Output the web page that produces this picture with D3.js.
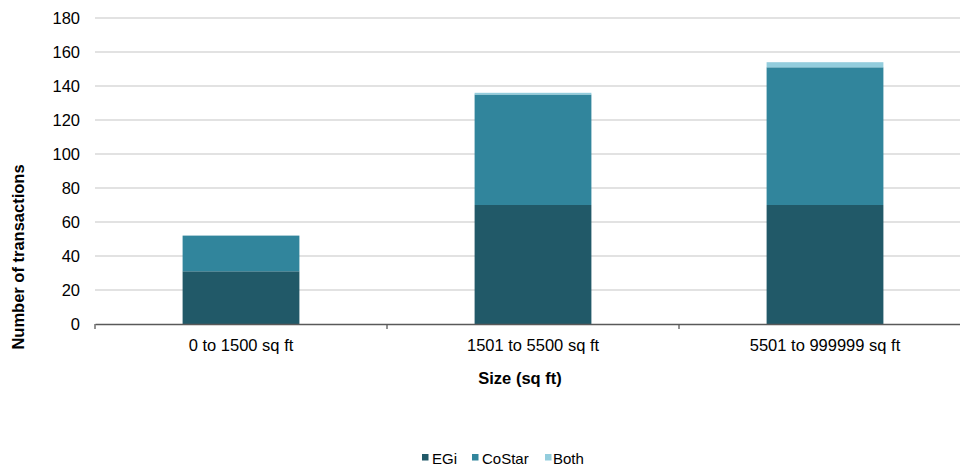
<!DOCTYPE html>
<html><head><meta charset="utf-8">
<script src="https://cdn.jsdelivr.net/npm/d3@7"></script>
<style>body{margin:0;background:#fff;overflow:hidden}svg{display:block;font-family:"Liberation Sans",Arial,sans-serif}</style>
</head><body><svg id="c" width="960" height="469"></svg>
<script>
const categories = ["0 to 1500 sq ft", "1501 to 5500 sq ft", "5501 to 999999 sq ft"];
const seriesNames = ["EGi", "CoStar", "Both"];
const egi = [31, 70, 70];
const costar = [21, 65, 81];
const both = [0, 1, 3];
const yTicks = [0, 20, 40, 60, 80, 100, 120, 140, 160, 180];
const colors = ["#215968", "#31859c", "#93cddd"];

const svg = d3.select("#c");
const x = d3.scaleBand().domain(categories).range([95, 971]).padding(0);
const y = d3.scaleLinear().domain([0, 180]).range([324, 18]);

const rows = categories.map((c, i) => ({cat: c, EGi: egi[i], CoStar: costar[i], Both: both[i]}));
const stack = d3.stack().keys(seriesNames)(rows);

// gridlines
svg.append("g").selectAll("line").data(yTicks.filter(t => t > 0)).join("line")
  .attr("x1", 95).attr("x2", 971).attr("y1", d => y(d)).attr("y2", d => y(d))
  .attr("stroke", "#d9d9d9").attr("stroke-width", 1.3);

// bars
const bw = x.bandwidth() * 0.4;
svg.append("g").selectAll("g").data(stack).join("g")
  .attr("fill", (d, i) => colors[i])
  .selectAll("rect").data(d => d).join("rect")
  .attr("x", d => x(d.data.cat) + (x.bandwidth() - bw) / 2)
  .attr("width", bw)
  .attr("y", d => y(d[1]))
  .attr("height", d => y(d[0]) - y(d[1]));

// y axis labels
const yAxis = svg.append("g").attr("transform", "translate(95,0)")
  .call(d3.axisLeft(y).tickValues(yTicks).tickSize(0).tickPadding(15));
yAxis.select(".domain").remove();
yAxis.selectAll("text").attr("font-size", 16.5).attr("fill", "#000").attr("font-family", "Liberation Sans, Arial, sans-serif");

// x axis
const xAxis = svg.append("g").attr("transform", "translate(0,324)")
  .call(d3.axisBottom(x).tickSize(0).tickPadding(15));
xAxis.select(".domain").attr("stroke", "#595959").attr("stroke-width", 1.3);
xAxis.selectAll("text").attr("font-size", 16.5).attr("fill", "#000").attr("font-family", "Liberation Sans, Arial, sans-serif");
// category separator ticks
svg.append("g").selectAll("line").data(categories).join("line")
  .attr("x1", d => x(d)).attr("x2", d => x(d))
  .attr("y1", 324).attr("y2", 329).attr("stroke", "#595959").attr("stroke-width", 1.3);

// axis titles
svg.append("text").attr("x", 520).attr("y", 384).attr("text-anchor", "middle")
  .attr("font-size", 16.5).attr("font-weight", "bold").text("Size (sq ft)");
svg.append("text").attr("transform", "translate(24,257) rotate(-90)").attr("text-anchor", "middle")
  .attr("font-size", 16.5).attr("font-weight", "bold").text("Number of transactions");

// legend
const legX = [422, 472, 545];
const leg = svg.append("g").selectAll("g").data(seriesNames).join("g")
  .attr("transform", (d, i) => `translate(${legX[i]},0)`);
leg.append("rect").attr("x", 0).attr("y", 454).attr("width", 6.5).attr("height", 6.5).attr("fill", (d, i) => colors[i]);
leg.append("text").attr("x", (d, i) => i === 2 ? 8 : 10).attr("y", 464).attr("font-size", 15).attr("fill", "#000").text(d => d);
</script></body></html>
